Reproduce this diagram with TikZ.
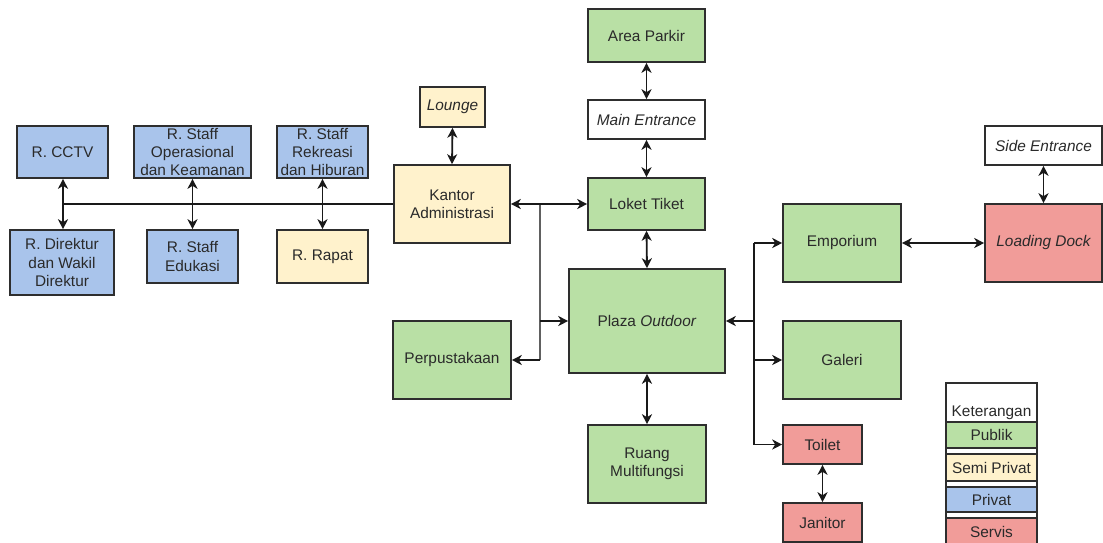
\documentclass[tikz,border=0pt]{standalone}
\usepackage{fontspec}
\setmainfont{Liberation Sans}
\usetikzlibrary{arrows.meta}
\definecolor{pubfill}{HTML}{B9E0A5}
\definecolor{semifill}{HTML}{FFF2CC}
\definecolor{privfill}{HTML}{A9C4EB}
\definecolor{servfill}{HTML}{F19C99}
\definecolor{edge}{HTML}{2E2E2E}
\definecolor{txt}{HTML}{2A2A2A}
\tikzset{
  room/.style={draw=edge, line width=1.6pt, align=center, text=txt, inner sep=0pt,
    font=\fontsize{15.4}{18.3}\selectfont},
  publik/.style={room, fill=pubfill},
  semi/.style={room, fill=semifill},
  privat/.style={room, fill=privfill},
  servis/.style={room, fill=servfill},
  plain/.style={room, fill=white},
  link/.style={draw=black!90, line width=1.8pt},
  trunk/.style={draw=gray!75!black, line width=2.2pt},
  >={Stealth[length=10pt,width=10pt,inset=3pt]},
}
\begin{document}
\begin{tikzpicture}[x=1pt, y=-1pt]
\useasboundingbox (0,0) rectangle (1103,542);

% private wing
\node[privat, minimum width=91pt, minimum height=52pt] (cctv) at (62.5,152) {R. CCTV};
\node[privat, minimum width=117pt, minimum height=52pt] (staffop) at (192.5,152) {R. Staff\\Operasional\\dan Keamanan};
\node[privat, minimum width=91pt, minimum height=52pt] (staffrek) at (322.5,152) {R. Staff\\Rekreasi\\dan Hiburan};
\node[privat, minimum width=104pt, minimum height=65pt] (direktur) at (62,262.5) {R. Direktur\\dan Wakil\\Direktur};
\node[privat, minimum width=91pt, minimum height=53pt] (edukasi) at (192.5,256.5) {R. Staff\\Edukasi};
\node[semi, minimum width=91pt, minimum height=53pt] (rapat) at (322.5,256.5) {R. Rapat};

% administration
\node[semi, minimum width=65pt, minimum height=40pt] (lounge) at (452.5,107) {\itshape Lounge};
\node[semi, minimum width=116pt, minimum height=78pt] (kantor) at (452,204) {Kantor\\Administrasi};
\node[publik, minimum width=118pt, minimum height=78pt] (perpus) at (452,360) {Perpustakaan};

% main axis
\node[publik, minimum width=117pt, minimum height=53pt] (parkir) at (646.5,35.5) {Area Parkir};
\node[plain, minimum width=117pt, minimum height=39pt] (mainent) at (646.5,119.5) {\itshape Main Entrance};
\node[publik, minimum width=117pt, minimum height=52pt] (loket) at (646.5,204) {Loket Tiket};
\node[publik, minimum width=156pt, minimum height=104pt] (plaza) at (647,321) {Plaza \textit{Outdoor}};
\node[publik, minimum width=118pt, minimum height=78pt] (multi) at (647,464) {Ruang\\Multifungsi};

% east wing
\node[publik, minimum width=118pt, minimum height=78pt] (emporium) at (842,243) {Emporium};
\node[publik, minimum width=118pt, minimum height=78pt] (galeri) at (842,360) {Galeri};
\node[servis, minimum width=79pt, minimum height=39pt] (toilet) at (822.5,444.5) {Toilet};
\node[servis, minimum width=79pt, minimum height=39pt] (janitor) at (822.5,522.5) {Janitor};
\node[servis, minimum width=117pt, minimum height=78pt] (loading) at (1043.5,243) {\itshape Loading Dock};
\node[plain, minimum width=117pt, minimum height=39pt] (side) at (1043.5,145.5) {\itshape Side Entrance};

% junction points
\coordinate (wjoin) at (63,204);
\coordinate (ljoin) at (540,204);
\coordinate (rjoin) at (754,321);

% private wing connectors
\draw[link] (kantor.west) -- (wjoin);
\draw[link, <->] (cctv.south -| wjoin) -- (direktur.north -| wjoin);
\draw[link, <->] (staffop.south) -- (edukasi.north);
\draw[link, <->] (staffrek.south) -- (rapat.north);
\draw[link, <->] (lounge.south) -- (kantor.north);

% west junction
\draw[trunk] (ljoin) -- (ljoin |- perpus.east);
\draw[link, ->] (ljoin |- perpus.east) -- (perpus.east);
\draw[link, ->] (ljoin |- plaza.west) -- (plaza.west);
\draw[link, <->] (kantor.east) -- (loket.west);

% main axis connectors
\draw[link, <->] (parkir.south) -- (mainent.north);
\draw[link, <->] (mainent.south) -- (loket.north);
\draw[link, <->] (loket.south) -- (plaza.north);
\draw[link, <->] (plaza.south) -- (multi.north);

% east junction
\draw[link] (rjoin |- emporium.west) -- (rjoin |- toilet.west);
\draw[link, ->] (rjoin) -- (plaza.east);
\draw[link, ->] (rjoin |- emporium.west) -- (emporium.west);
\draw[link, ->] (rjoin |- galeri.west) -- (galeri.west);
\draw[link, ->] (rjoin |- toilet.west) -- (toilet.west);
\draw[link, <->] (emporium.east) -- (loading.west);
\draw[link, <->] (side.south) -- (loading.north);
\draw[link, <->] (toilet.south) -- (janitor.north);

% legend
\node[plain, minimum width=91pt, minimum height=162pt] (legend) at (991.5,464) {};
\node[room, draw=none, anchor=base] (lgtitle) at (991.5,416) {Keterangan};
\node[publik, minimum width=91pt, minimum height=26pt] (lgpub) at (991.5,435) {Publik};
\node[semi, minimum width=91pt, minimum height=27pt] (lgsemi) at (991.5,467.5) {Semi Privat};
\node[privat, minimum width=91pt, minimum height=25pt] (lgpriv) at (991.5,499.5) {Privat};
\node[servis, minimum width=91pt, minimum height=27pt] (lgserv) at (991.5,531.5) {Servis};
\end{tikzpicture}
\end{document}
